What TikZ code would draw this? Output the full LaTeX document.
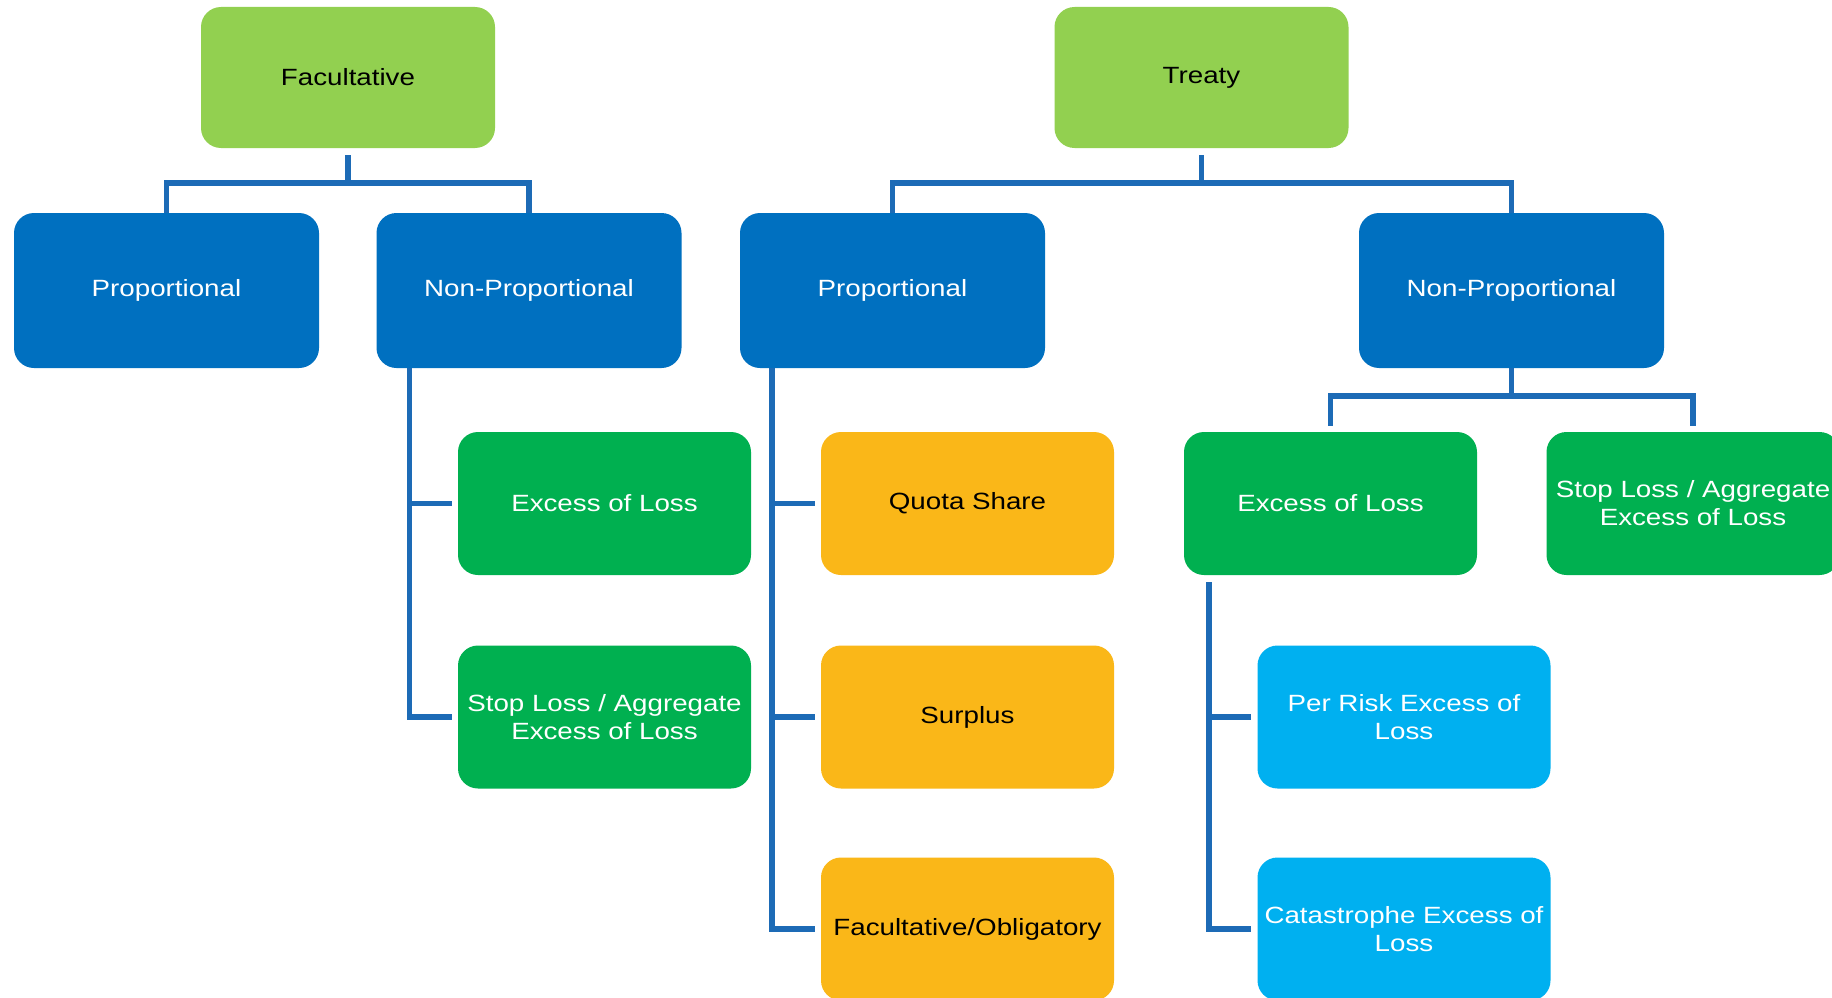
\documentclass[tikz,border=0pt]{standalone}
\usepackage{fontspec}
\setmainfont{Liberation Sans}[FakeStretch=1.18]
\usetikzlibrary{calc}
\definecolor{topgreen}{HTML}{92D050}
\definecolor{darkblue}{HTML}{0070C0}
\definecolor{midgreen}{HTML}{00B050}
\definecolor{goldbox}{HTML}{FAB718}
\definecolor{skyblue}{HTML}{00B0F0}
\definecolor{connblue}{HTML}{1D6BB6}
\tikzset{
  basebox/.style={rounded corners=20pt, inner sep=0pt, align=center, draw=none,
    font=\fontsize{23.5}{28}\selectfont},
  topbox/.style={basebox, fill=topgreen, text=black, minimum width=294pt, minimum height=141pt},
  catbox/.style={basebox, fill=darkblue, text=white, minimum width=305pt, minimum height=155pt},
  greenbox/.style={basebox, fill=midgreen, text=white, minimum width=293pt, minimum height=143pt},
  goldbx/.style={basebox, fill=goldbox, text=black, minimum width=293pt, minimum height=143pt},
  skybox/.style={basebox, fill=skyblue, text=white, minimum width=293pt, minimum height=143pt},
  conn/.style={draw=connblue, line width=5.5pt}
}
\begin{document}
\begin{tikzpicture}[x=1pt, y=-1pt]
\useasboundingbox (0,0) rectangle (1832,998);
\fill[white] (0,0) rectangle (1832,998);
% top level
\node[topbox] (fac) at (348,77.5) {Facultative};
\node[topbox] (tre) at (1201.5,77.5) {Treaty};
% second level
\node[catbox] (fp) at (166.5,290.5) {Proportional};
\node[catbox] (fnp) at (529,290.5) {Non-Proportional};
\node[catbox] (tp) at (892.5,290.5) {Proportional};
\node[catbox] (tnp) at (1511.5,290.5) {Non-Proportional};
% facultative non-proportional children
\node[greenbox] (fxl) at (604.5,503.5) {Excess of Loss};
\node[greenbox] (fsl) at (604.5,717) {Stop Loss / Aggregate\\Excess of Loss};
% treaty proportional children
\node[goldbx] (qs) at (967.5,503.5) {Quota Share};
\node[goldbx] (sur) at (967.5,717) {Surplus};
\node[goldbx] (fo) at (967.5,929) {Facultative/Obligatory};
% treaty non-proportional children
\node[greenbox] (txl) at (1330.5,503.5) {Excess of Loss};
\node[greenbox] (tsl) at (1693,503.5) {Stop Loss / Aggregate\\Excess of Loss};
\node[skybox] (pr) at (1404,717) {Per Risk Excess of\\Loss};
\node[skybox] (cat) at (1404,929) {Catastrophe Excess of\\Loss};
% connectors: top level
\coordinate (facb) at ($(fac.south)+(0,7)$);
\coordinate (treb) at ($(tre.south)+(0,7)$);
\draw[conn] (facb) -- ++(0,28) -| (fp.north);
\draw[conn] (facb) -- ++(0,28) -| (fnp.north);
\draw[conn] (treb) -- ++(0,28) -| (tp.north);
\draw[conn] (treb) -- ++(0,28) -| (tnp.north);
% treaty non-proportional to its children
\draw[conn] (tnp.south) -- ++(0,28) -| ($(txl.north)+(0,-6)$);
\draw[conn] (tnp.south) -- ++(0,28) -| ($(tsl.north)+(0,-6)$);
% side trees
\coordinate (fnpv) at ($(fnp.south west)+(33,0)$);
\draw[conn, shorten >=6pt] (fnpv) |- (fxl.west);
\draw[conn, shorten >=6pt] (fnpv) |- (fsl.west);
\coordinate (tpv) at ($(tp.south west)+(32,0)$);
\draw[conn, shorten >=6pt] (tpv) |- (qs.west);
\draw[conn, shorten >=6pt] (tpv) |- (sur.west);
\draw[conn, shorten >=6pt] (tpv) |- (fo.west);
\coordinate (txlv) at ($(txl.south west)+(25,7)$);
\draw[conn, shorten >=6pt] (txlv) |- (pr.west);
\draw[conn, shorten >=6pt] (txlv) |- (cat.west);
\end{tikzpicture}
\end{document}
